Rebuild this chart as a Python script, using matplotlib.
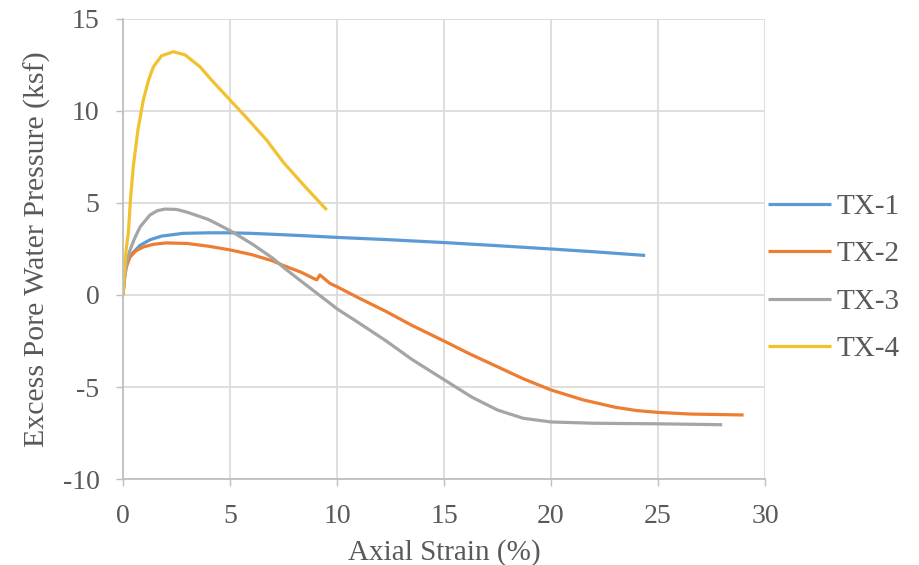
import matplotlib
matplotlib.use("Agg")
import matplotlib.pyplot as plt

plt.rcParams['font.family'] = ['Liberation Serif', 'DejaVu Serif']
plt.rcParams['axes.unicode_minus'] = False

tx1_x = [0.0, 0.08, 0.2, 0.47, 0.8, 1.26, 1.8, 2.8, 4.0, 5.0, 6.0, 7.0, 8.5, 10.0, 12.5, 15.0, 17.5, 20.0, 22.0, 24.4]
tx1_y = [0.0, 1.2, 1.9, 2.3, 2.7, 3.0, 3.2, 3.35, 3.38, 3.38, 3.35, 3.3, 3.22, 3.13, 3.0, 2.85, 2.68, 2.5, 2.35, 2.15]

tx2_x = [0.0, 0.08, 0.15, 0.33, 0.6, 0.95, 1.4, 2.0, 3.0, 4.0, 5.0, 6.0, 7.0, 7.5, 8.3, 9.05, 9.2, 9.67, 10.0, 11.0, 12.3, 13.5, 15.0, 16.2, 17.5, 18.7, 20.0, 21.5, 23.0, 24.0, 25.0, 26.5, 28.0, 29.0]
tx2_y = [0.0, 1.0, 1.5, 2.07, 2.4, 2.61, 2.75, 2.83, 2.8, 2.65, 2.45, 2.2, 1.85, 1.6, 1.25, 0.82, 1.09, 0.63, 0.45, -0.15, -0.9, -1.65, -2.5, -3.2, -3.9, -4.55, -5.16, -5.7, -6.1, -6.28, -6.38, -6.47, -6.5, -6.52]

tx3_x = [0.0, 0.08, 0.18, 0.33, 0.55, 0.8, 1.26, 1.6, 1.96, 2.5, 3.0, 4.0, 5.0, 6.0, 7.0, 7.5, 8.27, 9.0, 9.67, 10.0, 11.0, 12.3, 13.5, 15.0, 16.3, 17.5, 18.7, 20.0, 22.0, 25.0, 28.0]
tx3_y = [0.0, 1.0, 1.8, 2.45, 3.1, 3.7, 4.35, 4.58, 4.67, 4.65, 4.5, 4.1, 3.5, 2.8, 2.0, 1.5, 0.8, 0.15, -0.45, -0.75, -1.5, -2.5, -3.5, -4.6, -5.55, -6.25, -6.7, -6.9, -6.97, -7.0, -7.05]

tx4_x = [0.0, 0.08, 0.15, 0.25, 0.35, 0.48, 0.7, 0.95, 1.2, 1.42, 1.8, 2.35, 2.9, 3.6, 4.2, 5.0, 5.8, 6.71, 7.5, 8.5, 9.52]
tx4_y = [0.0, 1.5, 2.5, 3.37, 5.2, 6.98, 9.0, 10.6, 11.7, 12.4, 13.0, 13.22, 13.05, 12.4, 11.6, 10.6, 9.6, 8.42, 7.2, 5.9, 4.62]

series = [("TX-1", tx1_x, tx1_y, "#5B9BD5"),
          ("TX-2", tx2_x, tx2_y, "#ED7D31"),
          ("TX-3", tx3_x, tx3_y, "#A5A5A5"),
          ("TX-4", tx4_x, tx4_y, "#F2C12E")]

x_ticks = [0, 5, 10, 15, 20, 25, 30]
y_ticks = [-10, -5, 0, 5, 10, 15]

fig = plt.figure(figsize=(9.2, 5.65), dpi=100)
ax = fig.add_axes([0.1337, 0.1522, 0.8315 - 0.1337, 0.9664 - 0.1522])

for name, xs, ys, c in series:
    ax.plot(xs, ys, color=c, lw=2.3, label=name, solid_capstyle='butt',
            solid_joinstyle='round')

ax.set_xlim(0, 30)
ax.set_ylim(-10, 15)
ax.set_xticks(x_ticks)
ax.set_yticks(y_ticks)
ax.grid(True, color="#D9D9D9", lw=1.2)
ax.set_axisbelow(True)
for s in ['top', 'right']:
    ax.spines[s].set_visible(False)
for s in ['left', 'bottom']:
    ax.spines[s].set_color("#BFBFBF")
    ax.spines[s].set_linewidth(1.3)
ax.tick_params(axis='both', colors="#595959", labelsize=20, length=5, width=1.0,
               color="#BFBFBF", direction='out')
ax.tick_params(axis='x', pad=13)
ax.tick_params(axis='y', pad=12)
ax.set_xlabel("Axial Strain (%)", fontsize=21, color="#595959", labelpad=7)
ax.set_ylabel("Excess Pore Water Pressure (ksf)", fontsize=21.5, color="#595959", labelpad=8)

leg = ax.legend(loc='center left', bbox_to_anchor=(1.005, 0.437), frameon=False,
                fontsize=21, handlelength=2.15, handletextpad=0.2,
                labelspacing=0.72, borderaxespad=0, borderpad=0)
for t in leg.get_texts():
    t.set_color("#595959")

fig.savefig("out.png", dpi=100)
